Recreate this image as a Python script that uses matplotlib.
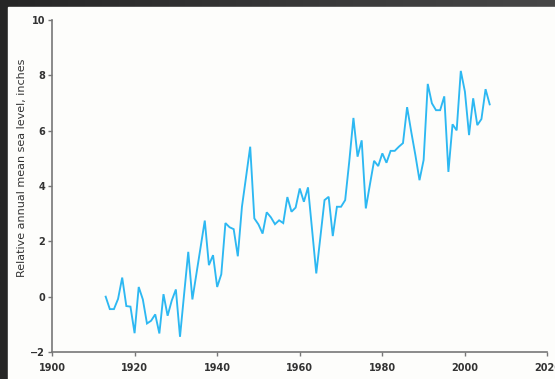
import matplotlib
matplotlib.use("Agg")
import matplotlib.pyplot as plt
import numpy as np
from matplotlib.patches import Rectangle

# annual mean sea level relative to the 1913 level (inches)
years = list(range(1913, 2007))
sea_level = [
    0.00, -0.45, -0.45, -0.08, 0.69, -0.34, -0.36, -1.32, 0.35, -0.10,   # 1913-1922
    -0.97, -0.87, -0.64, -1.33, 0.09, -0.69, -0.14, 0.26, -1.45, 0.10,   # 1923-1932
    1.62, -0.10, 0.85, 1.80, 2.75, 1.14, 1.50, 0.35, 0.81, 2.66,         # 1933-1942
    2.51, 2.44, 1.46, 3.25, 4.33, 5.42, 2.83, 2.61, 2.28, 3.05,          # 1943-1952
    2.87, 2.62, 2.76, 2.66, 3.60, 3.07, 3.22, 3.91, 3.43, 3.95,          # 1953-1962
    2.40, 0.84, 2.16, 3.49, 3.61, 2.19, 3.25, 3.25, 3.49, 4.90,          # 1963-1972
    6.46, 5.06, 5.65, 3.19, 4.06, 4.91, 4.72, 5.18, 4.84, 5.27,          # 1973-1982
    5.27, 5.42, 5.55, 6.85, 5.96, 5.12, 4.21, 4.94, 7.69, 6.99,          # 1983-1992
    6.74, 6.74, 7.24, 4.51, 6.23, 6.01, 8.16, 7.41, 5.84, 7.17,          # 1993-2002
    6.20, 6.42, 7.50, 6.95,                                              # 2003-2006
]
xticks = [1900, 1920, 1940, 1960, 1980, 2000, 2020]
yticks = [-2, 0, 2, 4, 6, 8, 10]

W, H = 555, 379
fig = plt.figure(figsize=(W / 100, H / 100), dpi=100)

# dark frame with a soft gradient, white page on top of it
bg = fig.add_axes([0, 0, 1, 1])
grad = np.linspace(0, 1, 256).reshape(1, -1)
bg.imshow(grad, cmap=matplotlib.colors.LinearSegmentedColormap.from_list(
    "frame", ["#262626", "#474747"]), aspect="auto", extent=[0, 1, 0, 1])
bg.add_patch(Rectangle((8 / W, 0), 1, 1 - 7 / H, color="#fdfdfb", zorder=2))
bg.set_xlim(0, 1)
bg.set_ylim(0, 1)
bg.axis("off")

ax = fig.add_axes([52 / W, 1 - 352 / H, (547.5 - 52) / W, (352 - 20) / H])
ax.patch.set_visible(False)
ax.plot(years, sea_level, color="#2db8f2", lw=1.35, solid_joinstyle="miter")

ax.set_xlim(1900, 2020)
ax.set_ylim(-2, 10)
ax.set_xticks(xticks)
ax.set_yticks(yticks)
for side in ("top", "right"):
    ax.spines[side].set_visible(False)
for side in ("left", "bottom"):
    ax.spines[side].set_color("#777777")
    ax.spines[side].set_linewidth(1.2)
ax.tick_params(axis="both", colors="#777777", length=3, width=1,
               labelsize=7, labelcolor="#333333")
ax.tick_params(axis="x", pad=5)
ax.tick_params(axis="y", pad=2)
for lab in ax.get_xticklabels() + ax.get_yticklabels():
    lab.set_fontweight("bold")

fig.text(22 / W, 1 - 168 / H, "Relative annual mean sea level, inches",
         rotation=90, ha="center", va="center", fontsize=8, color="#333333")

fig.savefig("out.png", dpi=100, facecolor="#333333")
